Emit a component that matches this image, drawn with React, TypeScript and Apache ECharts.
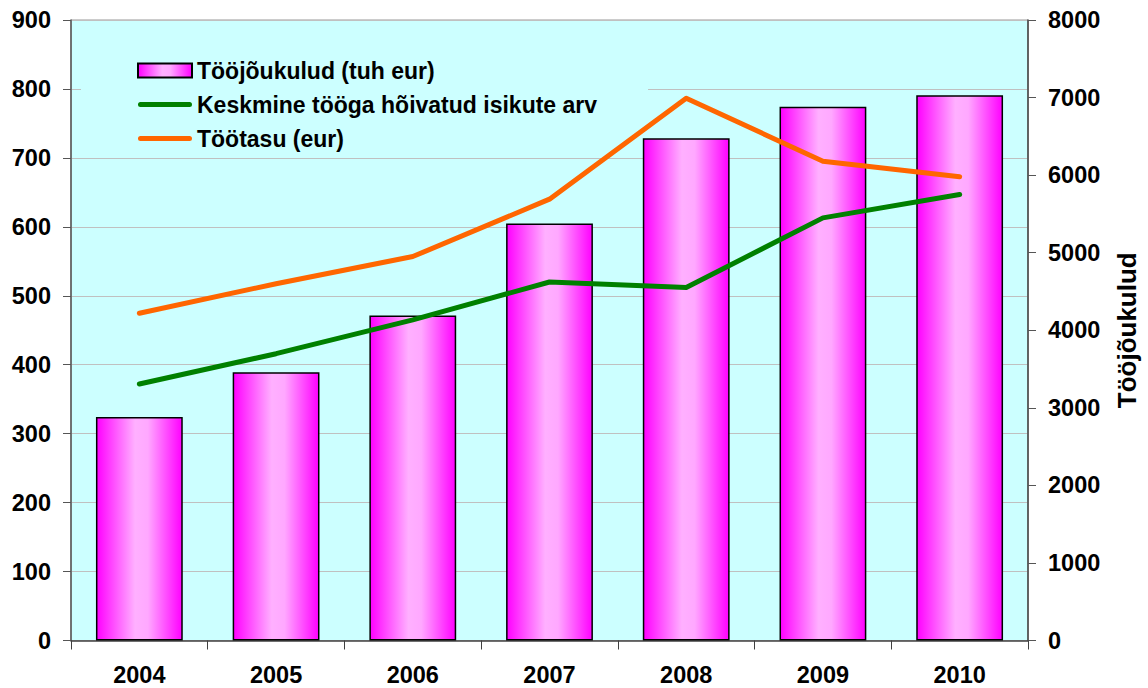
import React, { useEffect, useRef } from "react";
import * as echarts from "echarts";

const years = ["2004", "2005", "2006", "2007", "2008", "2009", "2010"];
const laborCost = [2880, 3460, 4190, 5375, 6475, 6880, 7030];
const employees = [372, 416, 465, 520, 512, 613, 647];
const wage = [4220, 4600, 4950, 5690, 6990, 6180, 5980];

const leftTicks = { min: 0, max: 900, interval: 100 };
const rightTicks = { min: 0, max: 8000, interval: 1000 };

const FONT = "Liberation Sans";
const lineIcon = "path://M0,0M2.5,4.5h49a2.5,2.5 0 0 1 0,5h-49a2.5,2.5 0 0 1 0,-5zM54,14";

export default function App() {
  const ref = useRef<HTMLDivElement>(null);
  useEffect(() => {
    if (!ref.current) return;
    const chart = echarts.init(ref.current, null, { renderer: "svg" });
    const barGradient = new echarts.graphic.LinearGradient(0, 0, 1, 0, [
      { offset: 0, color: "#ff00ff" },
      { offset: 0.45, color: "#ffb0ff" },
      { offset: 0.6, color: "#ffa8ff" },
      { offset: 1, color: "#ff00ff" },
    ]);
    const labelStyle = {
      color: "#000",
      fontFamily: FONT,
      fontWeight: "bold" as const,
      fontSize: 23,
    };
    const tickStyle = { ...labelStyle, fontSize: 23.5 };
    chart.setOption({
      animation: false,
      backgroundColor: "#fff",
      grid: {
        left: 71,
        right: 114,
        top: 20,
        bottom: 47.5,
        show: true,
        backgroundColor: "#ccffff",
        borderColor: "#999",
        borderWidth: 1,
        containLabel: false,
      },
      legend: {
        orient: "vertical",
        left: 81,
        top: 40,
        z: 1,
        padding: [19, 51, 5, 56],
        backgroundColor: "#ccffff",
        itemWidth: 54,
        itemHeight: 14,
        itemGap: 11,
        selectedMode: false,
        textStyle: { ...labelStyle, lineHeight: 23 },
        data: [
          { name: "Tööjõukulud (tuh eur)", icon: "rect" },
          {
            name: "Keskmine tööga hõivatud isikute arv",
            icon: lineIcon,
            itemStyle: { color: "#008000" },
          },
          { name: "Töötasu (eur)", icon: lineIcon, itemStyle: { color: "#ff6600" } },
        ],
      },
      xAxis: {
        type: "category",
        data: years,
        boundaryGap: true,
        axisLine: { lineStyle: { color: "#404040", width: 1.5 } },
        axisTick: { show: true, alignWithLabel: false, length: 9, lineStyle: { color: "#404040" } },
        axisLabel: { ...tickStyle, margin: 22 },
        splitLine: { show: false },
      },
      yAxis: [
        {
          type: "value",
          position: "left",
          ...leftTicks,
          axisLine: { show: true, lineStyle: { color: "#555", width: 1.5 } },
          axisTick: { show: true, length: 8, inside: false, lineStyle: { color: "#555" } },
          axisLabel: { ...tickStyle, margin: 20 },
          splitLine: { show: true, lineStyle: { color: "#c0c0c0", width: 1 } },
        },
        {
          type: "value",
          position: "right",
          ...rightTicks,
          name: "Tööjõukulud",
          nameLocation: "middle",
          nameRotate: 90,
          nameGap: 86,
          nameTextStyle: { ...labelStyle, fontSize: 26 },
          axisLine: { show: true, lineStyle: { color: "#404040", width: 1.5 } },
          axisTick: { show: true, length: 8, inside: false, lineStyle: { color: "#555" } },
          axisLabel: { ...tickStyle, margin: 20, formatter: (v: number) => String(v) },
          splitLine: { show: false },
        },
      ],
      series: [
        {
          name: "Tööjõukulud (tuh eur)",
          type: "bar",
          yAxisIndex: 1,
          data: laborCost,
          barWidth: "63.5%",
          itemStyle: { color: barGradient, borderColor: "#000", borderWidth: 1.5 },
          z: 2,
        },
        {
          name: "Keskmine tööga hõivatud isikute arv",
          type: "line",
          yAxisIndex: 0,
          data: employees,
          symbol: "none",
          lineStyle: { color: "#008000", width: 5, cap: "round", join: "round" },
          itemStyle: { color: "#008000" },
          z: 3,
        },
        {
          name: "Töötasu (eur)",
          type: "line",
          yAxisIndex: 1,
          data: wage,
          symbol: "none",
          lineStyle: { color: "#ff6600", width: 5, cap: "round", join: "round" },
          itemStyle: { color: "#ff6600" },
          z: 3,
        },
      ],
    });
    return () => chart.dispose();
  }, []);
  return (
    <div
      ref={ref}
      style={{ position: "fixed", left: 0, top: 0, width: 1148, height: 688 }}
    />
  );
}
